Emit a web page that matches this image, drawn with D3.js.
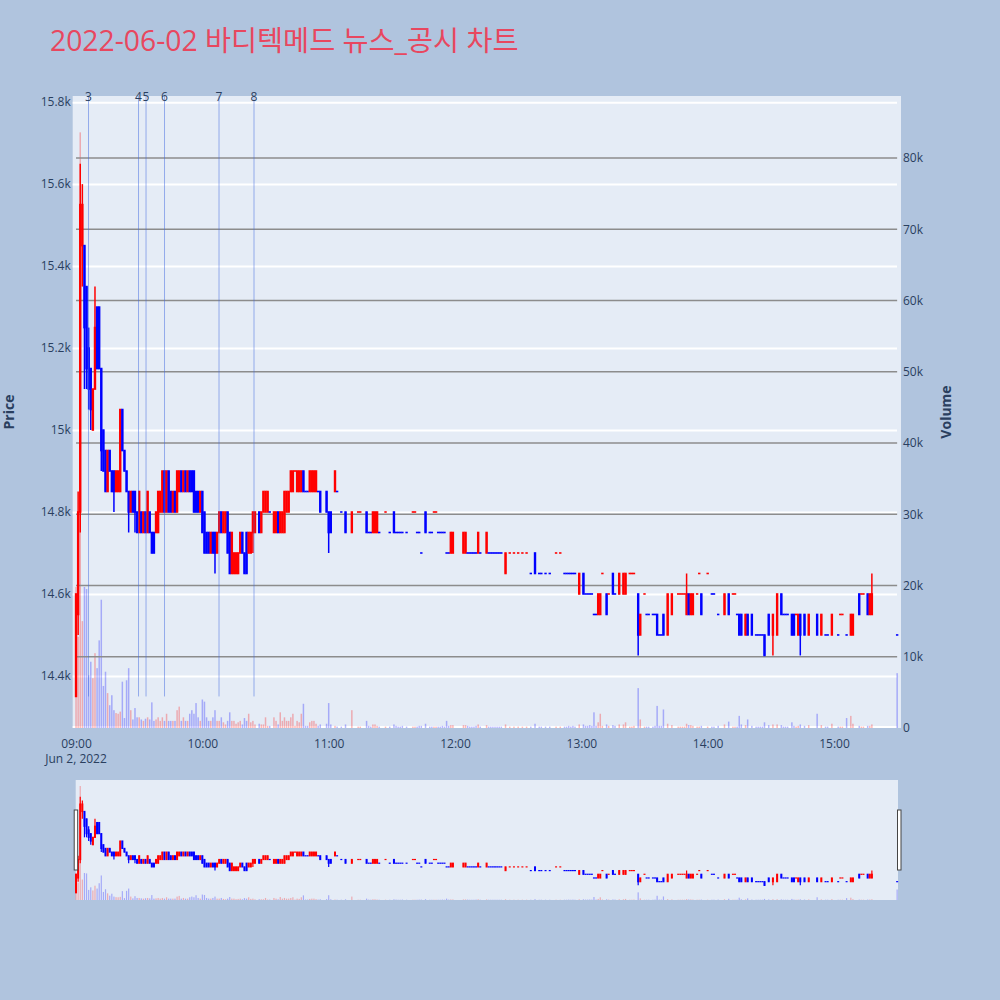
<!DOCTYPE html>
<html><head><meta charset="utf-8">
<script src="https://cdn.jsdelivr.net/npm/d3@7/dist/d3.min.js"></script>
<style>html,body{margin:0;padding:0;background:#b0c4de;} svg{display:block;font-family:'Open Sans','Noto Sans CJK KR',sans-serif;}</style>
</head><body>
<svg id="chart" width="1000" height="1000"></svg>
<script>
const titleText = "2022-06-02 바디텍메드 뉴스_공시 차트";
const times = [
"09:00","09:01","09:02","09:03","09:04","09:05","09:06","09:07","09:08","09:09",
"09:10","09:11","09:12","09:13","09:14","09:15","09:16","09:17","09:18","09:19",
"09:20","09:21","09:22","09:23","09:24","09:25","09:26","09:27","09:28","09:29",
"09:30","09:31","09:32","09:33","09:34","09:35","09:36","09:37","09:38","09:39",
"09:40","09:41","09:42","09:43","09:44","09:45","09:46","09:47","09:48","09:49",
"09:50","09:51","09:52","09:53","09:54","09:55","09:56","09:57","09:58","09:59",
"10:00","10:01","10:02","10:03","10:04","10:05","10:06","10:07","10:08","10:09",
"10:10","10:11","10:12","10:13","10:14","10:15","10:16","10:17","10:18","10:19",
"10:20","10:21","10:22","10:23","10:24","10:25",
"10:27","10:28","10:29","10:30","10:31","10:32",
"10:34","10:35","10:36","10:37","10:38","10:39",
"10:40","10:41","10:42","10:43","10:44","10:45","10:46","10:47","10:48","10:49",
"10:50","10:51","10:52","10:53","10:54","10:55","10:56",
"10:59","11:00","11:01","11:03","11:04","11:06","11:08","11:11","11:14","11:15",
"11:18","11:19","11:20","11:21","11:22","11:23","11:24","11:27","11:29","11:31",
"11:32","11:33","11:34","11:35","11:37","11:40","11:41","11:42","11:43","11:44",
"11:46","11:48","11:49","11:50","11:51","11:52","11:53","11:54","11:55","11:56",
"11:57","11:58","11:59","12:04","12:05","12:06","12:07","12:08","12:09","12:10",
"12:11","12:12","12:15","12:16","12:17","12:18","12:19","12:20","12:21","12:22",
"12:24","12:26","12:28","12:30","12:32","12:34","12:36","12:38","12:40","12:41",
"12:43","12:45","12:48","12:50","12:52","12:53","12:54","12:55","12:56","12:57",
"12:59","13:01","13:02","13:03","13:04","13:05","13:06","13:07","13:08","13:09",
"13:10","13:12","13:13","13:15","13:16","13:18","13:20","13:21","13:23","13:24",
"13:25","13:27","13:28","13:30","13:31","13:32","13:34","13:35","13:36","13:37",
"13:38","13:39","13:41","13:43","13:46","13:47","13:48","13:49","13:50","13:51",
"13:52","13:53","13:55","13:56","13:57","14:00","14:02","14:03","14:05","14:08",
"14:10","14:12","14:13","14:14","14:15","14:16","14:18","14:19","14:21","14:23",
"14:24","14:25","14:26","14:27","14:29","14:31","14:33","14:35","14:36","14:37",
"14:38","14:40","14:41","14:42","14:43","14:44","14:46","14:48","14:52","14:54",
"14:56","14:57","14:59","15:02","15:03","15:04","15:06","15:08","15:09","15:12",
"15:13","15:14","15:16","15:17","15:18","15:30"];
const opens = [
14350,14550,14800,15450,15450,15350,15200,15150,15000,15100,
15300,15300,15150,15000,14950,14850,14950,14900,14900,14850,
14850,14850,15050,14950,14900,14850,14800,14850,14850,14800,
14750,14800,14750,14800,14750,14800,14750,14750,14750,14750,
14800,14800,14900,14800,14900,14850,14800,14850,14800,14850,
14900,14850,14900,14850,14900,14900,14900,14850,14850,14800,
14850,14800,14750,14750,14700,14750,14750,14700,14750,14800,
14750,14750,14800,14750,14650,14650,14650,14650,14700,14750,
14700,14750,14700,14700,14750,14750,
14800,14750,14800,14800,14800,14800,
14750,14750,14800,14750,14750,14750,
14800,14800,14850,14850,14900,14850,14850,14850,14900,14850,
14850,14850,14850,14850,14850,14850,14850,
14850,14800,14800,14850,14850,14800,14800,14750,14800,14800,
14800,14750,14750,14750,14750,14750,14750,14800,14750,14800,
14750,14750,14750,14750,14750,14800,14800,14750,14750,14700,
14800,14750,14750,14800,14800,14750,14750,14750,14750,14700,
14700,14700,14700,14700,14700,14700,14700,14700,14700,14700,
14700,14700,14700,14700,14700,14700,14700,14700,14700,14700,
14650,14700,14700,14700,14700,14700,14650,14700,14650,14650,
14650,14650,14700,14700,14650,14650,14650,14650,14650,14650,
14600,14650,14600,14600,14600,14600,14550,14550,14550,14550,
14650,14600,14600,14650,14600,14600,14600,14600,14650,14650,
14650,14600,14500,14600,14550,14550,14550,14550,14550,14500,
14500,14550,14500,14550,14600,14600,14600,14600,14550,14600,
14550,14550,14600,14650,14600,14650,14600,14600,14550,14550,
14600,14600,14600,14550,14550,14550,14500,14550,14550,14500,
14500,14500,14500,14500,14550,14500,14500,14600,14550,14550,
14550,14550,14550,14550,14500,14550,14550,14500,14550,14500,
14500,14500,14500,14500,14550,14550,14500,14500,14500,14600,
14600,14600,14600,14550,14550,14500];
const highs = [
14600,14850,15650,15600,15450,15350,15250,15150,15100,15350,
15300,15300,15150,15000,14950,14950,14950,14900,14900,14900,
14900,15050,15050,14950,14900,14850,14850,14850,14850,14800,
14850,14800,14800,14800,14850,14800,14750,14750,14800,14850,
14850,14900,14900,14900,14900,14850,14850,14850,14900,14900,
14900,14900,14900,14900,14900,14900,14900,14850,14850,14850,
14850,14800,14750,14750,14750,14750,14750,14750,14800,14800,
14800,14800,14800,14750,14750,14700,14700,14700,14750,14750,
14700,14750,14750,14750,14800,14800,
14800,14800,14850,14850,14850,14800,
14800,14800,14800,14800,14800,14850,
14850,14850,14900,14900,14900,14900,14900,14900,14900,14850,
14850,14900,14900,14900,14900,14850,14850,
14850,14800,14800,14900,14850,14800,14800,14800,14800,14800,
14800,14750,14750,14800,14800,14800,14750,14800,14750,14800,
14750,14750,14750,14750,14750,14800,14800,14750,14750,14700,
14800,14750,14750,14800,14800,14750,14750,14750,14750,14700,
14700,14750,14750,14750,14750,14700,14700,14700,14700,14700,
14750,14700,14750,14700,14700,14700,14700,14700,14700,14700,
14700,14700,14700,14700,14700,14700,14650,14700,14650,14650,
14650,14650,14700,14700,14650,14650,14650,14650,14650,14650,
14650,14650,14600,14600,14600,14600,14550,14550,14600,14600,
14650,14600,14600,14650,14600,14650,14650,14650,14650,14650,
14650,14600,14550,14600,14550,14550,14550,14550,14550,14500,
14500,14550,14600,14600,14600,14600,14600,14600,14650,14600,
14600,14600,14600,14650,14600,14650,14600,14600,14550,14600,
14600,14600,14600,14550,14550,14550,14550,14550,14550,14500,
14500,14500,14500,14500,14550,14550,14600,14600,14550,14550,
14550,14550,14550,14550,14550,14550,14550,14550,14550,14550,
14500,14500,14550,14500,14550,14550,14500,14550,14550,14600,
14600,14600,14600,14600,14650,14500];
const lows = [
14350,14500,14750,15350,15100,15100,15050,15000,15000,15100,
15150,15150,14900,14900,14850,14850,14900,14850,14800,14850,
14850,14850,14950,14900,14850,14750,14800,14800,14750,14750,
14750,14750,14750,14750,14750,14750,14700,14700,14750,14750,
14800,14800,14800,14800,14800,14800,14800,14800,14800,14850,
14850,14850,14850,14850,14850,14850,14800,14800,14800,14800,
14750,14700,14700,14700,14700,14700,14650,14700,14750,14750,
14750,14750,14700,14650,14650,14650,14650,14650,14700,14700,
14650,14650,14700,14700,14700,14750,
14750,14750,14800,14800,14800,14800,
14750,14750,14750,14750,14750,14750,
14800,14800,14850,14850,14900,14850,14850,14850,14850,14850,
14850,14850,14850,14850,14850,14850,14800,
14800,14700,14750,14850,14850,14800,14750,14750,14800,14800,
14750,14750,14750,14750,14750,14750,14750,14800,14750,14750,
14750,14750,14750,14750,14750,14800,14800,14750,14750,14700,
14750,14750,14750,14800,14800,14750,14750,14750,14750,14700,
14700,14700,14700,14700,14700,14700,14700,14700,14700,14700,
14700,14700,14700,14700,14700,14700,14700,14700,14700,14700,
14650,14700,14700,14700,14700,14700,14650,14650,14650,14650,
14650,14650,14700,14700,14650,14650,14650,14650,14650,14650,
14600,14600,14600,14600,14600,14600,14550,14550,14550,14550,
14650,14550,14600,14600,14600,14600,14600,14600,14650,14650,
14650,14450,14500,14600,14550,14550,14550,14550,14500,14500,
14500,14500,14500,14550,14600,14600,14600,14600,14550,14550,
14550,14550,14600,14650,14550,14650,14600,14600,14550,14550,
14550,14600,14600,14550,14500,14500,14500,14500,14500,14500,
14500,14500,14500,14450,14500,14450,14500,14550,14550,14550,
14550,14500,14500,14550,14500,14450,14500,14500,14500,14500,
14500,14500,14500,14500,14550,14550,14500,14500,14500,14550,
14600,14600,14550,14550,14550,14500];
const closes = [
14600,14800,15550,15550,15250,15150,15100,15050,15100,15250,
15150,15150,14950,14900,14850,14950,14900,14850,14850,14900,
14900,15050,14950,14900,14850,14800,14850,14800,14800,14750,
14850,14750,14800,14750,14850,14750,14700,14700,14800,14850,
14850,14900,14800,14900,14800,14800,14850,14800,14900,14900,
14850,14900,14850,14900,14850,14850,14800,14800,14800,14850,
14750,14700,14700,14700,14750,14700,14700,14750,14800,14750,
14800,14800,14700,14650,14750,14700,14700,14700,14750,14700,
14650,14650,14750,14750,14800,14800,
14750,14800,14850,14850,14850,14800,
14800,14800,14750,14800,14800,14850,
14850,14850,14900,14900,14900,14900,14900,14900,14850,14850,
14850,14900,14900,14900,14900,14850,14800,
14800,14750,14750,14900,14850,14800,14750,14800,14800,14800,
14750,14750,14750,14800,14800,14800,14750,14800,14750,14750,
14750,14750,14750,14750,14750,14800,14800,14750,14750,14700,
14750,14750,14750,14800,14800,14750,14750,14750,14750,14700,
14700,14750,14750,14750,14750,14700,14700,14700,14700,14700,
14750,14700,14750,14700,14700,14700,14700,14700,14700,14700,
14700,14700,14700,14700,14700,14700,14650,14650,14650,14650,
14650,14650,14700,14700,14650,14650,14650,14650,14650,14650,
14650,14600,14600,14600,14600,14600,14550,14550,14600,14600,
14650,14550,14600,14600,14600,14650,14650,14650,14650,14650,
14650,14500,14550,14600,14550,14550,14550,14550,14500,14500,
14500,14500,14600,14600,14600,14600,14600,14600,14600,14550,
14600,14600,14600,14650,14550,14650,14600,14600,14550,14600,
14550,14600,14600,14550,14500,14500,14550,14500,14500,14500,
14500,14500,14500,14450,14500,14550,14600,14550,14550,14550,
14550,14500,14500,14550,14550,14500,14500,14550,14500,14550,
14500,14500,14550,14500,14550,14550,14500,14550,14550,14550,
14600,14600,14550,14600,14600,14500];
const volumes = [
19800,12800,83600,15000,19800,19500,7400,9300,7000,10500,
8400,12300,18000,5900,7900,4900,3200,4600,2500,2100,
2000,2300,6500,1400,6700,8400,2500,1200,2800,1500,
1500,1200,1000,1300,1500,1200,3600,1000,1200,1500,
1000,1500,1000,2000,1000,1000,1000,1000,2500,3000,
1000,1500,1000,1000,2000,2500,2000,3500,1500,1000,
4000,3700,1500,1000,1000,1500,2500,1000,1000,1500,
800,500,1000,2200,1000,1000,600,800,1000,500,
1400,1000,2000,800,1000,500,
600,500,500,1500,300,300,
1500,1000,500,2200,1000,1500,
1000,1000,1500,2000,300,1000,800,2000,3400,300,
300,800,1000,1000,600,300,500,
600,3500,500,300,200,200,500,2500,200,200,
1000,300,200,500,500,300,200,200,200,500,
300,200,200,300,200,200,200,200,300,300,
600,200,200,200,200,200,200,300,200,1000,
300,400,400,400,400,300,200,200,200,300,
500,200,400,200,200,200,200,200,200,200,
500,200,200,200,200,200,200,600,200,200,
200,200,200,200,200,200,300,200,300,200,
500,500,300,300,400,300,2200,300,800,2000,
300,500,300,400,300,500,500,800,200,200,
300,5600,1200,200,200,200,200,300,3100,300,
300,2600,600,400,200,200,200,200,600,400,
400,300,200,200,300,200,200,200,300,500,
900,200,200,200,1700,500,400,1200,300,200,
200,200,200,800,400,500,500,400,200,200,
200,800,300,200,300,500,300,400,2000,400,
200,200,600,200,200,200,1400,1700,600,300,
200,200,300,300,500,7700];
const newsLabels = ["3","4","5","6","7","8"];
const newsTimes = ["09:05:56","09:29:41","09:33:15","09:42:02","10:07:55","10:24:32"];
const priceTicks = [14400,14600,14800,15000,15200,15400,15600,15800];
const priceTickLabels = ["14.4k","14.6k","14.8k","15k","15.2k","15.4k","15.6k","15.8k"];
const volumeTicks = [0,10000,20000,30000,40000,50000,60000,70000,80000];
const volumeTickLabels = ["0","10k","20k","30k","40k","50k","60k","70k","80k"];
const timeTicks = ["09:00","10:00","11:00","12:00","13:00","14:00","15:00"];

const parse = s => { const p = s.split(":").map(Number); return new Date(2022,5,2,p[0],p[1],p[2]||0); };
const data = times.map((t,i)=>({t:parse(t),o:opens[i],h:highs[i],l:lows[i],c:closes[i],v:volumes[i]}));
let prevC = null, inc = true;
data.forEach(d=>{
  if (d.c === d.o) { if (prevC !== null && d.c !== prevC) inc = d.c > prevC; }
  else inc = d.c > d.o;
  d.inc = inc; prevC = d.c;
});
const RED="#ff0000", BLUE="#0000ff", TXT="#2a3f5f";

const svg = d3.select("#chart");
const P = {left:72.7, right:901, top:96, bottom:728};
const x = d3.scaleTime().domain([parse("08:58:25"), parse("15:31:50")]).range([P.left, P.right]);
const yP = d3.scaleLinear().domain([14273,15815]).range([P.bottom, P.top]);
const yV = d3.scaleLinear().domain([0,88700]).range([P.bottom, P.top]);

// title
svg.append("text").attr("x",50).attr("y",51).attr("font-size",28.3).attr("fill","#e8475f")
  .attr("font-family","'Open Sans','Noto Sans CJK KR',sans-serif").text(titleText);

// plot bg
svg.append("rect").attr("x",P.left).attr("y",P.top).attr("width",P.right-P.left).attr("height",P.bottom-P.top).attr("fill","#e5ecf6");

// price grid
const gridP = svg.append("g").attr("transform",`translate(${P.left},0)`)
  .call(d3.axisLeft(yP).tickValues(priceTicks).tickSize(-(897-P.left)).tickFormat(""));
gridP.select(".domain").remove();
gridP.selectAll("line").attr("stroke","#ffffff").attr("stroke-width",2);
// volume zero line
svg.append("line").attr("x1",P.left).attr("x2",897).attr("y1",yV(0)-1).attr("y2",yV(0)-1).attr("stroke","#fff").attr("stroke-width",2);

// volume bars
const xFirst = x(data[0].t), xLast = x(data[data.length-1].t);
svg.append("g").selectAll("rect").data(data).join("rect")
  .attr("x",d=>x(d.t)-0.75).attr("width",1.5)
  .attr("y",d=>yV(d.v)).attr("height",d=>P.bottom-yV(d.v))
  .attr("fill",d=>d.inc?RED:BLUE).attr("fill-opacity",0.28);

// volume grid (gray)
svg.append("g").selectAll("line").data(volumeTicks.slice(1)).join("line")
  .attr("x1",xFirst).attr("x2",xLast).attr("y1",d=>yV(d)).attr("y2",d=>yV(d))
  .attr("stroke","#8c8c8c").attr("stroke-width",1.3);

// candles
const gC = svg.append("g");
gC.selectAll("line").data(data).join("line")
  .attr("x1",d=>x(d.t)).attr("x2",d=>x(d.t)).attr("y1",d=>yP(d.h)).attr("y2",d=>yP(d.l))
  .attr("stroke",d=>d.inc?RED:BLUE).attr("stroke-width",1.5);
gC.selectAll("rect").data(data).join("rect")
  .attr("x",d=>x(d.t)-1.2).attr("width",2.4)
  .attr("y",d=>yP(Math.max(d.o,d.c))-0.8)
  .attr("height",d=>yP(Math.min(d.o,d.c))-yP(Math.max(d.o,d.c))+1.6)
  .attr("fill",d=>d.inc?RED:BLUE);

// news lines
const news = newsTimes.map((t,i)=>({t:parse(t),label:newsLabels[i]}));
svg.append("g").selectAll("line").data(news).join("line")
  .attr("x1",d=>x(d.t)).attr("x2",d=>x(d.t)).attr("y1",yP(14350)).attr("y2",P.top)
  .attr("stroke","rgba(65,105,225,0.5)").attr("stroke-width",1);
svg.append("g").selectAll("text").data(news).join("text")
  .attr("x",d=>x(d.t)).attr("y",101).attr("text-anchor","middle").attr("font-size",12).attr("fill",TXT)
  .text(d=>d.label);

// axes
const ax = svg.append("g").attr("transform",`translate(${P.left},0)`)
  .call(d3.axisLeft(yP).tickValues(priceTicks).tickFormat((d,i)=>priceTickLabels[i]).tickSize(0).tickPadding(2));
ax.select(".domain").remove();
ax.selectAll("text").attr("font-size",12).attr("fill",TXT).attr("font-family","'Open Sans',sans-serif");
const axR = svg.append("g").attr("transform",`translate(${P.right},0)`)
  .call(d3.axisRight(yV).tickValues(volumeTicks).tickFormat((d,i)=>volumeTickLabels[i]).tickSize(0).tickPadding(2));
axR.select(".domain").remove();
axR.selectAll("text").attr("font-size",12).attr("fill",TXT).attr("font-family","'Open Sans',sans-serif");
const axB = svg.append("g").attr("transform",`translate(0,${P.bottom})`)
  .call(d3.axisBottom(x).tickValues(timeTicks.map(parse)).tickFormat(d3.timeFormat("%H:%M")).tickSize(0).tickPadding(11));
axB.select(".domain").remove();
axB.selectAll("text").attr("font-size",12).attr("fill",TXT).attr("font-family","'Open Sans',sans-serif");
svg.append("text").attr("x",x(parse("09:00"))).attr("y",763).attr("text-anchor","middle")
  .attr("font-size",12).attr("fill",TXT).text("Jun 2, 2022");

// axis titles
svg.append("text").attr("transform","translate(14,412) rotate(-90)").attr("text-anchor","middle")
  .attr("font-size",14).attr("font-weight","bold").attr("fill",TXT).text("Price");
svg.append("text").attr("transform","translate(951,412) rotate(-90)").attr("text-anchor","middle")
  .attr("font-size",14).attr("font-weight","bold").attr("fill",TXT).text("Volume");

// range slider
const R = {top:780, bottom:900};
svg.append("rect").attr("x",P.left+3).attr("y",R.top).attr("width",P.right-P.left-6).attr("height",R.bottom-R.top).attr("fill","#e5ecf6");
const yPm = d3.scaleLinear().domain([14252,15876]).range([R.bottom,R.top]);
const yVm = d3.scaleLinear().domain([0,88000]).range([R.bottom,R.top]);
const gM = svg.append("g");
gM.selectAll("rect.v").data(data).join("rect").attr("class","v")
  .attr("x",d=>x(d.t)-0.6).attr("width",1.2).attr("y",d=>yVm(d.v)).attr("height",d=>R.bottom-yVm(d.v))
  .attr("fill",d=>d.inc?RED:BLUE).attr("fill-opacity",0.28);
gM.selectAll("line").data(data).join("line")
  .attr("x1",d=>x(d.t)).attr("x2",d=>x(d.t)).attr("y1",d=>yPm(d.h)).attr("y2",d=>yPm(d.l))
  .attr("stroke",d=>d.inc?RED:BLUE).attr("stroke-width",1.2);
gM.selectAll("rect.b").data(data).join("rect").attr("class","b")
  .attr("x",d=>x(d.t)-1).attr("width",2)
  .attr("y",d=>yPm(Math.max(d.o,d.c))-0.6)
  .attr("height",d=>yPm(Math.min(d.o,d.c))-yPm(Math.max(d.o,d.c))+1.2)
  .attr("fill",d=>d.inc?RED:BLUE);
[P.left+1.5, P.right-3.5].forEach(hx=>{
  svg.append("rect").attr("x",hx).attr("y",810).attr("width",3.5).attr("height",60)
    .attr("fill","#fff").attr("stroke","#444").attr("stroke-width",1);
});
</script>
</body></html>
